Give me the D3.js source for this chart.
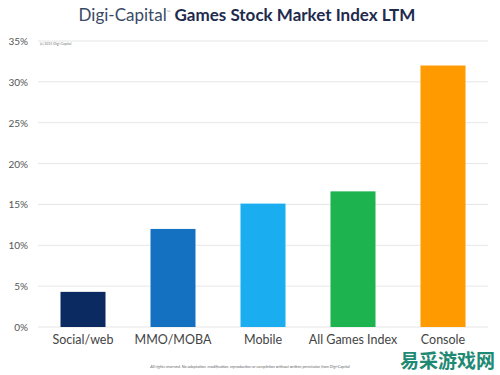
<!DOCTYPE html>
<html><head><meta charset="utf-8">
<script src="https://cdn.jsdelivr.net/npm/d3@7"></script>
<style>body{margin:0;background:#fff}svg{display:block}</style>
</head><body>
<script>
const categories = ["Social/web","MMO/MOBA","Mobile","All Games Index","Console"];
const values = [4.3, 12.0, 15.1, 16.6, 32.0];
const colors = ["#0c2a62","#1470c0","#1aaef0","#1db34f","#ff9a00"];
const yTicks = [0,5,10,15,20,25,30,35];

const W=500,H=375;
const svg=d3.select("body").append("svg").attr("width",W).attr("height",H);
const x=d3.scaleBand().domain(categories).range([38,488]).paddingInner(0.5).paddingOuter(0.25);
const y=d3.scaleLinear().domain([0,35]).range([327,41]);

// gridlines
svg.append("g").selectAll("line").data(yTicks).join("line")
  .attr("x1",38).attr("x2",488).attr("y1",d=>y(d)).attr("y2",d=>y(d))
  .attr("stroke","#e6e6e6").attr("stroke-width",1);

// y labels
svg.append("g").selectAll("text").data(yTicks).join("text")
  .attr("x",28).attr("y",d=>y(d)+4).attr("text-anchor","end")
  .attr("font-family","Lato, 'Open Sans', sans-serif").attr("font-size",10).attr("fill","#555")
  .text(d=>d+"%");

// bars
svg.append("g").selectAll("rect").data(values).join("rect")
  .attr("x",(d,i)=>x(categories[i])).attr("width",x.bandwidth())
  .attr("y",d=>y(d)).attr("height",d=>y(0)-y(d))
  .attr("fill",(d,i)=>colors[i]);

// category labels
svg.append("g").selectAll("text").data(categories).join("text")
  .attr("x",d=>x(d)+x.bandwidth()/2).attr("y",344).attr("text-anchor","middle")
  .attr("font-family","Lato, 'Open Sans', sans-serif").attr("font-size",12.5).attr("fill","#444")
  .text(d=>d);

// title
const t=svg.append("text").attr("x",247).attr("y",21).attr("text-anchor","middle")
  .attr("font-family","Lato, 'Open Sans', sans-serif").attr("font-size",17);
t.append("tspan").attr("fill","#3a4a66").text("Digi-Capital");
t.append("tspan").attr("fill","#999").attr("font-size",5).attr("dy",-7).text("™");
t.append("tspan").attr("fill","#1e2b4d").attr("font-weight","bold").attr("dy",7).text(" Games Stock Market Index LTM");

// copyright
svg.append("text").attr("x",40).attr("y",45).attr("font-family","Lato, sans-serif").attr("font-size",3.5).attr("fill","#777")
  .text("(c) 2015 Digi-Capital");
// footer
svg.append("text").attr("x",250).attr("y",368).attr("text-anchor","middle").attr("font-family","Lato, sans-serif")
  .attr("font-size",4).attr("font-style","italic").attr("fill","#666")
  .text("All rights reserved. No adaptation, modification, reproduction or completion without written permission from Digi-Capital");
// watermark
svg.append("text").attr("x",495).attr("y",368).attr("text-anchor","end")
  .attr("font-family","'Noto Sans CJK SC', sans-serif").attr("font-weight","bold").attr("font-size",19)
  .attr("fill","#1f8a74").text("易采游戏网");
</script>
</body></html>
